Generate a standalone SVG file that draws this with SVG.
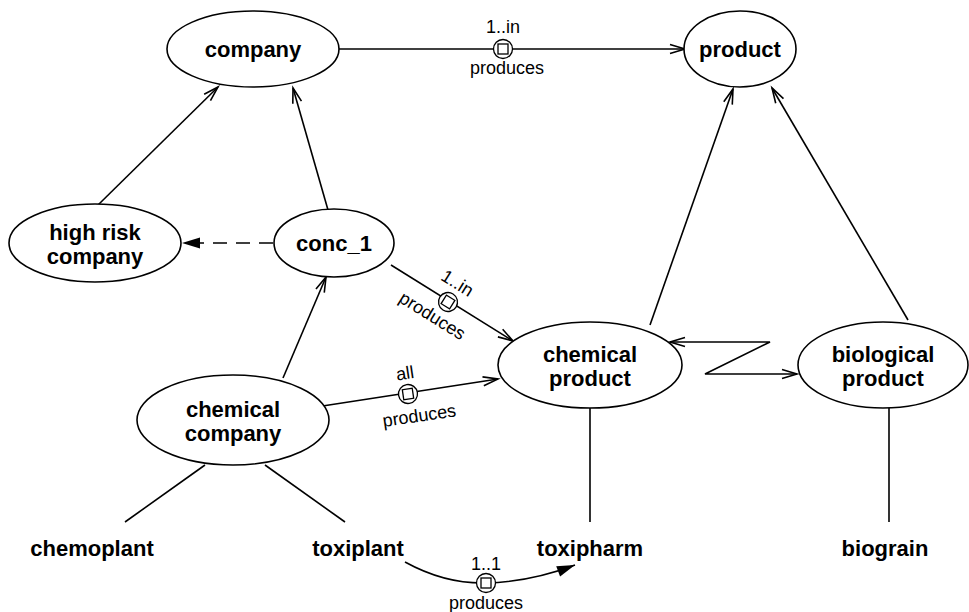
<svg xmlns="http://www.w3.org/2000/svg" width="969" height="612" viewBox="0 0 969 612">
<style>
.node ellipse{fill:#fff;stroke:#000;stroke-width:1.6}
.nl{font-family:"Liberation Sans",Arial,sans-serif;font-weight:bold;font-size:22px;text-anchor:middle;fill:#000}
.el{font-family:"Liberation Sans",Arial,sans-serif;font-size:18px;text-anchor:middle;fill:#000}
.e{fill:none;stroke:#000;stroke-width:1.6}
.dash{stroke-dasharray:14,9}
.mk circle{fill:#fff;stroke:#000;stroke-width:1.3}
.mk rect{fill:#fff;stroke:#000;stroke-width:1.3}
</style>
<defs>
<marker id="open" markerUnits="userSpaceOnUse" markerWidth="18" markerHeight="12" refX="15" refY="4.5" orient="auto-start-reverse" overflow="visible">
<path d="M0,0 L15,4.5 L0,9" fill="none" stroke="#000" stroke-width="1.6"/>
</marker>
<marker id="fill" markerUnits="userSpaceOnUse" markerWidth="20" markerHeight="12" refX="18" refY="5.5" orient="auto" overflow="visible">
<path d="M0,0 L18,5.5 L0,11 z" fill="#000"/>
</marker>
<g id="dec" class="mk"><circle r="9.5"/><rect x="-5" y="-5" width="10" height="10"/></g>
</defs>
<g id="connectors">
<line class="e" x1="339" y1="49" x2="685" y2="49" marker-end="url(#open)"/>
<line class="e" x1="98" y1="205" x2="218" y2="87" marker-end="url(#open)"/>
<line class="e" x1="328" y1="210" x2="293" y2="88" marker-end="url(#open)"/>
<line class="e dash" x1="273" y1="243" x2="182" y2="243" marker-end="url(#fill)"/>
<line class="e" x1="283" y1="378" x2="326" y2="277" marker-end="url(#open)"/>
<line class="e" x1="391" y1="265" x2="513" y2="341" marker-end="url(#open)"/>
<line class="e" x1="316" y1="407" x2="498" y2="379" marker-end="url(#open)"/>
<line class="e" x1="650" y1="325" x2="733" y2="89" marker-end="url(#open)"/>
<line class="e" x1="908" y1="320" x2="772" y2="88" marker-end="url(#open)"/>
<polyline class="e" points="670,342 770,342 705,374 797,374" marker-start="url(#open)" marker-end="url(#open)"/>
<line class="e" x1="205" y1="465" x2="125" y2="522"/>
<line class="e" x1="265" y1="465" x2="345" y2="522"/>
<line class="e" x1="590" y1="408" x2="590" y2="522"/>
<line class="e" x1="889" y1="408" x2="889" y2="522"/>
<path class="e" d="M405,562 Q445,584 486,583 Q530,582 575,565" marker-end="url(#fill)"/>
<use href="#dec" x="503" y="49"/>
<text class="el" x="503" y="33">1..in</text>
<text class="el" x="507" y="74">produces</text>
<g transform="translate(448,302) rotate(32)">
<use href="#dec"/>
<text class="el" x="-2" y="-15">1..in</text>
<text class="el" x="-6" y="26">produces</text>
</g>
<g transform="translate(408,394) rotate(-8.4)">
<use href="#dec"/>
<text class="el" x="0" y="-15">all</text>
<text class="el" x="8" y="29">produces</text>
</g>
<use href="#dec" x="486" y="583"/>
<text class="el" x="486" y="570">1..1</text>
<text class="el" x="486" y="609">produces</text>
</g>
<g id="company" class="node"><ellipse cx="253" cy="49" rx="86" ry="38"/><text class="nl" x="253" y="57">company</text></g>
<g id="product" class="node"><ellipse cx="740" cy="49" rx="56" ry="38"/><text class="nl" x="740" y="57">product</text></g>
<g id="high_risk_company" class="node"><ellipse cx="95" cy="243" rx="86" ry="39"/><text class="nl" x="95" y="240">high risk</text><text class="nl" x="95" y="264">company</text></g>
<g id="conc_1" class="node"><ellipse cx="334" cy="243" rx="60" ry="34"/><text class="nl" x="334" y="251">conc_1</text></g>
<g id="chemical_product" class="node"><ellipse cx="590" cy="365" rx="92" ry="43"/><text class="nl" x="590" y="362">chemical</text><text class="nl" x="590" y="386">product</text></g>
<g id="biological_product" class="node"><ellipse cx="883" cy="365" rx="85" ry="43"/><text class="nl" x="883" y="362">biological</text><text class="nl" x="883" y="386">product</text></g>
<g id="chemical_company" class="node"><ellipse cx="233" cy="420" rx="96" ry="45"/><text class="nl" x="233" y="417">chemical</text><text class="nl" x="233" y="441">company</text></g>
<g id="chemoplant" class="node"><text class="nl" x="92" y="556">chemoplant</text></g>
<g id="toxiplant" class="node"><text class="nl" x="358" y="556">toxiplant</text></g>
<g id="toxipharm" class="node"><text class="nl" x="590" y="556">toxipharm</text></g>
<g id="biograin" class="node"><text class="nl" x="885" y="556">biograin</text></g>
</svg>
